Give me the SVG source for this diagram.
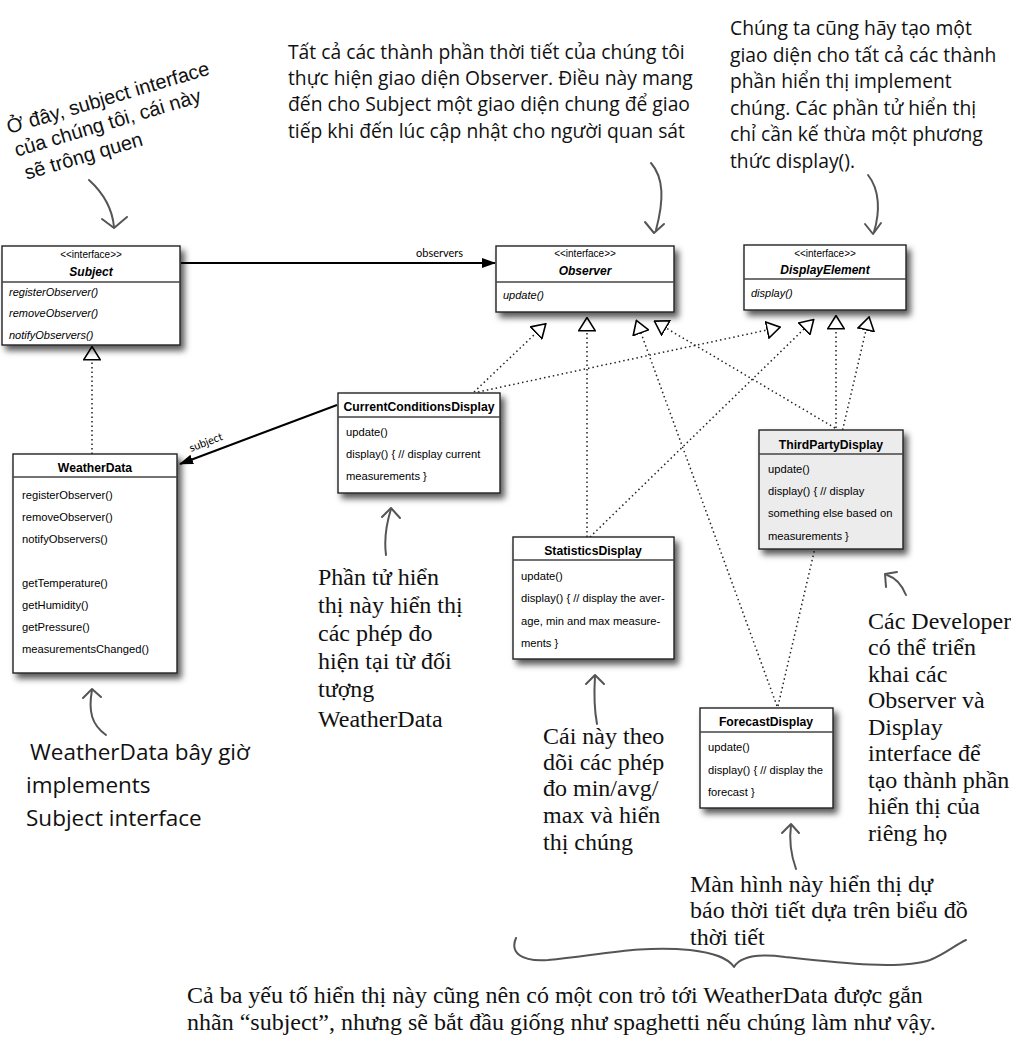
<svg xmlns="http://www.w3.org/2000/svg" width="1011" height="1061" viewBox="0 0 1011 1061">
<defs>
<filter id="sh" x="-10%" y="-10%" width="130%" height="140%">
<feDropShadow dx="4" dy="5" stdDeviation="3" flood-color="#000" flood-opacity="0.65"/>
</filter>
<marker id="tri" viewBox="0 0 15 18" markerWidth="15" markerHeight="18" refX="0.5" refY="9" orient="auto" markerUnits="userSpaceOnUse">
<path d="M0.8,0.8 L14,9 L0.8,17.2 z" fill="#fff" stroke="#000" stroke-width="1.6"/>
</marker>
<marker id="fill" viewBox="0 0 14 10" markerWidth="14" markerHeight="10" refX="13" refY="5" orient="auto" markerUnits="userSpaceOnUse">
<path d="M0,0 L14,5 L0,10 z" fill="#000"/>
</marker>
</defs>
<style>
.box{fill:#fff;stroke:#222;stroke-width:1.4;filter:url(#sh)}
.gray{fill:#ececec}
.sep{stroke:#444;stroke-width:1.4}
.st{font-family:"Liberation Sans",Arial,sans-serif;font-size:10px;text-anchor:middle;fill:#000}
.ti{font-family:"Liberation Sans",Arial,sans-serif;font-size:12px;font-weight:bold;font-style:italic;text-anchor:middle;fill:#000}
.tb{font-family:"Liberation Sans",Arial,sans-serif;font-size:12.2px;font-weight:bold;text-anchor:middle;fill:#000}
.m{font-family:"Liberation Sans",Arial,sans-serif;font-size:11.2px;fill:#000}
.mi{font-family:"Liberation Sans",Arial,sans-serif;font-size:11px;font-style:italic;fill:#000}
.dot{fill:none;stroke:#222;stroke-width:1.5;stroke-dasharray:1.5 3;marker-end:url(#tri)}
.sol{fill:none;stroke:#000;stroke-width:2;marker-end:url(#fill)}
.lbl{font-family:"Lato","Liberation Sans",sans-serif;font-size:11px;fill:#000}
.note{font-family:"Open Sans","Liberation Sans",sans-serif;font-size:19.3px;fill:#111}
.note2{font-family:"Open Sans","Liberation Sans",sans-serif;font-size:22.5px;fill:#111}
.hand{font-family:"Liberation Sans",Arial,sans-serif;font-size:20px;fill:#111}
.ser{font-family:"Liberation Serif","Times New Roman",serif;font-size:24px;fill:#111}
.ann{fill:none;stroke:#555;stroke-width:2;stroke-linecap:round;stroke-linejoin:round}
</style>
<rect width="1011" height="1061" fill="#fff"/>

<g id="connectors">
<path class="sol" d="M181,263 L495,263"/>
<text class="lbl" x="416" y="257">observers</text>
<path class="sol" d="M337,405 L180,464"/>
<text class="lbl" x="0" y="0" transform="translate(191,452) rotate(-21)">subject</text>
<path class="dot" d="M92,454 L92,360"/>
<path class="dot" d="M474,392 L536,333"/>
<path class="dot" d="M587,537 L587,331"/>
<path class="dot" d="M777,706 L641,333"/>
<path class="dot" d="M835,428 L666,328"/>
<path class="dot" d="M478,392 L767,330"/>
<path class="dot" d="M590,537 L804,329"/>
<path class="dot" d="M836,428 L836,329"/>
<path class="dot" d="M778,706 L866,330"/>
</g>

<g id="subject">
<rect class="box" x="2" y="246" width="178" height="99"/>
<line class="sep" x1="2" y1="282" x2="180" y2="282"/>
<text class="st" x="91" y="258">&lt;&lt;interface&gt;&gt;</text>
<text class="ti" x="91" y="276">Subject</text>
<text class="mi" x="9" y="296">registerObserver()</text>
<text class="mi" x="9" y="317">removeObserver()</text>
<text class="mi" x="9" y="339">notifyObservers()</text>
</g>

<g id="observer">
<rect class="box" x="496" y="246" width="178" height="66"/>
<line class="sep" x1="496" y1="282" x2="674" y2="282"/>
<text class="st" x="585" y="257">&lt;&lt;interface&gt;&gt;</text>
<text class="ti" x="585" y="275">Observer</text>
<text class="mi" x="503" y="299">update()</text>
</g>

<g id="displayelement">
<rect class="box" x="744" y="245" width="162" height="65"/>
<line class="sep" x1="744" y1="279" x2="906" y2="279"/>
<text class="st" x="825" y="257">&lt;&lt;interface&gt;&gt;</text>
<text class="ti" x="825" y="274">DisplayElement</text>
<text class="mi" x="751" y="297">display()</text>
</g>

<g id="currentconditions">
<rect class="box" x="338" y="393" width="162" height="100"/>
<line class="sep" x1="338" y1="417" x2="500" y2="417"/>
<text class="tb" x="419" y="411">CurrentConditionsDisplay</text>
<text class="m" x="346" y="436">update()</text>
<text class="m" x="346" y="458">display() { // display current</text>
<text class="m" x="346" y="480">measurements }</text>
</g>

<g id="weatherdata">
<rect class="box" x="13" y="454" width="164" height="219"/>
<line class="sep" x1="13" y1="477" x2="177" y2="477"/>
<text class="tb" x="95" y="472">WeatherData</text>
<text class="m" x="22" y="499">registerObserver()</text>
<text class="m" x="22" y="521">removeObserver()</text>
<text class="m" x="22" y="543">notifyObservers()</text>
<text class="m" x="22" y="587">getTemperature()</text>
<text class="m" x="22" y="609">getHumidity()</text>
<text class="m" x="22" y="631">getPressure()</text>
<text class="m" x="22" y="653">measurementsChanged()</text>
</g>

<g id="thirdparty">
<rect class="box gray" x="759" y="430" width="144" height="119"/>
<line class="sep" x1="759" y1="454" x2="903" y2="454"/>
<text class="tb" x="831" y="449">ThirdPartyDisplay</text>
<text class="m" x="768" y="473">update()</text>
<text class="m" x="768" y="495">display() { // display</text>
<text class="m" x="768" y="517">something else based on</text>
<text class="m" x="768" y="540">measurements }</text>
</g>

<g id="statistics">
<rect class="box" x="513" y="537" width="161" height="122"/>
<line class="sep" x1="513" y1="560" x2="674" y2="560"/>
<text class="tb" x="593" y="555">StatisticsDisplay</text>
<text class="m" x="521" y="580">update()</text>
<text class="m" x="521" y="602">display() { // display the aver-</text>
<text class="m" x="521" y="625">age, min and max measure-</text>
<text class="m" x="521" y="647">ments }</text>
</g>

<g id="forecast">
<rect class="box" x="700" y="708" width="133" height="100"/>
<line class="sep" x1="700" y1="732" x2="833" y2="732"/>
<text class="tb" x="766" y="726">ForecastDisplay</text>
<text class="m" x="708" y="751">update()</text>
<text class="m" x="708" y="774">display() { // display the</text>
<text class="m" x="708" y="796">forecast }</text>
</g>

<g id="notes">
<g transform="translate(9,134) rotate(-16.5)">
<text class="hand" x="0" y="0">Ở đây, subject interface</text>
<text class="hand" x="1" y="24">của chúng tôi, cái này</text>
<text class="hand" x="4" y="49">sẽ trông quen</text>
</g>
<path class="ann" d="M89,180 C100,190 112,205 114,227"/>
<path class="ann" d="M102,219 L114,228 L127,217"/>

<text class="note" x="288" y="59">Tất cả các thành phần thời tiết của chúng tôi</text>
<text class="note" x="288" y="85">thực hiện giao diện Observer. Điều này mang</text>
<text class="note" x="288" y="111">đến cho Subject một giao diện chung để giao</text>
<text class="note" x="288" y="138">tiếp khi đến lúc cập nhật cho người quan sát</text>
<path class="ann" d="M651,163 C664,178 664,200 656,230"/>
<path class="ann" d="M645,222 L654,233 L664,224"/>

<text class="note" x="730" y="35">Chúng ta cũng hãy tạo một</text>
<text class="note" x="730" y="62">giao diện cho tất cả các thành</text>
<text class="note" x="730" y="88">phần hiển thị implement</text>
<text class="note" x="730" y="115">chúng. Các phần tử hiển thị</text>
<text class="note" x="730" y="141">chỉ cần kế thừa một phương</text>
<text class="note" x="730" y="168">thức display().</text>
<path class="ann" d="M868,175 C880,190 880,212 874,232"/>
<path class="ann" d="M865,224 L873,234 L881,223"/>

<path class="ann" d="M386,555 C384,540 386,525 391,509"/>
<path class="ann" d="M382,517 L391,508 L400,518"/>
<text class="ser" font-size="26.5" x="318" y="585">Phần tử hiển</text>
<text class="ser" font-size="26.5" x="318" y="613">thị này hiển thị</text>
<text class="ser" font-size="26.5" x="318" y="641">các phép đo</text>
<text class="ser" font-size="26.5" x="318" y="669">hiện tại từ đối</text>
<text class="ser" font-size="26.5" x="318" y="697">tượng</text>
<text class="ser" font-size="26.5" x="318" y="727">WeatherData</text>

<path class="ann" d="M106,735 C92,725 88,712 92,690"/>
<path class="ann" d="M83,698 L92,689 L101,697"/>
<text class="note2" x="30" y="760"> WeatherData bây giờ</text>
<text class="note2" x="26" y="793">implements</text>
<text class="note2" x="26" y="826">Subject interface</text>

<path class="ann" d="M597,724 C594,708 594,692 595,676"/>
<path class="ann" d="M586,684 L595,675 L604,684"/>
<text class="ser" x="543" y="744">Cái này theo</text>
<text class="ser" x="543" y="770">dõi các phép</text>
<text class="ser" x="543" y="796">đo min/avg/</text>
<text class="ser" x="543" y="823">max và hiển</text>
<text class="ser" x="543" y="850">thị chúng</text>

<path class="ann" d="M906,595 C902,585 896,578 887,575"/>
<path class="ann" d="M886,587 L885,574 L897,572"/>
<text class="ser" x="868" y="629">Các Developer</text>
<text class="ser" x="868" y="655">có thể triển</text>
<text class="ser" x="868" y="682">khai các</text>
<text class="ser" x="868" y="708">Observer và</text>
<text class="ser" x="868" y="735">Display</text>
<text class="ser" x="868" y="761">interface để</text>
<text class="ser" x="868" y="788">tạo thành phần</text>
<text class="ser" x="868" y="814">hiển thị của</text>
<text class="ser" x="868" y="841">riêng họ</text>

<path class="ann" d="M796,869 C791,855 789,840 791,825"/>
<path class="ann" d="M782,833 L791,824 L799,833"/>
<text class="ser" x="690" y="892">Màn hình này hiển thị dự</text>
<text class="ser" x="690" y="918">báo thời tiết dựa trên biểu đồ</text>
<text class="ser" x="690" y="945">thời tiết</text>

<path class="ann" d="M516,938 C510,952 520,962 548,960 C600,955 640,945 690,950 C715,953 728,958 734,967 C740,957 755,953 785,957 C840,963 900,970 930,960 C945,954 955,945 966,940"/>

<text class="ser" x="187" y="1003">Cả ba yếu tố hiển thị này cũng nên có một con trỏ tới WeatherData được gắn</text>
<text class="ser" x="187" y="1030">nhãn “subject”, nhưng sẽ bắt đầu giống như spaghetti nếu chúng làm như vậy.</text>
</g>
</svg>
